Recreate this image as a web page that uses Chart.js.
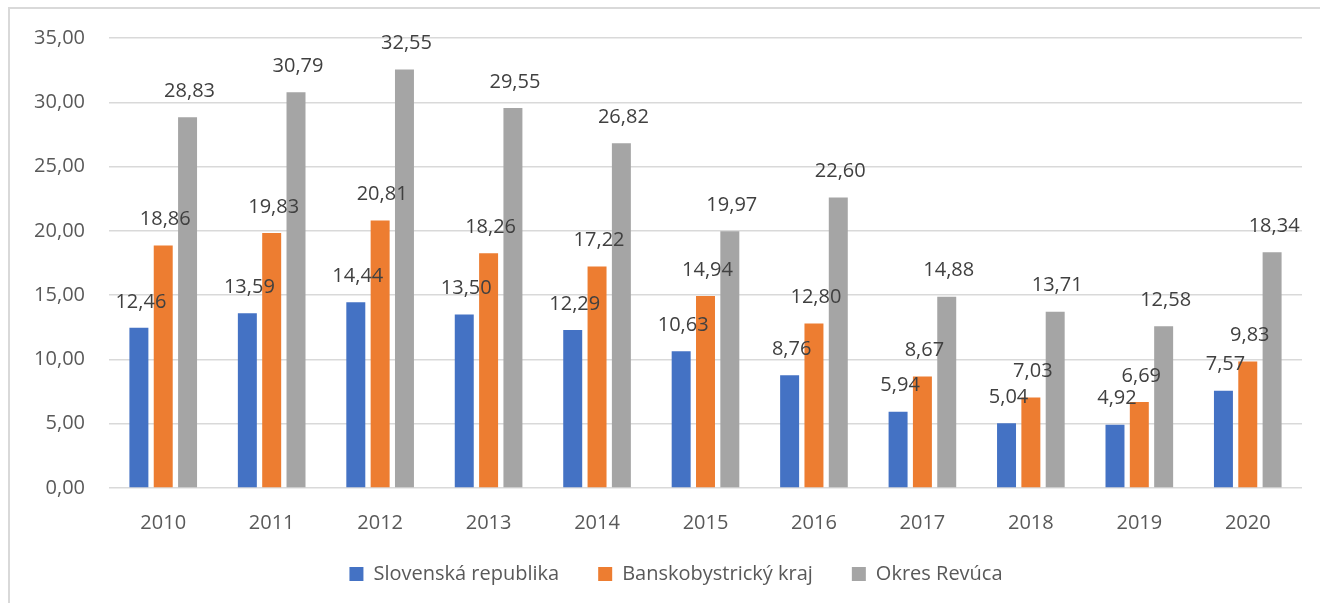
<!DOCTYPE html>
<html>
<head>
<meta charset="utf-8">
<script src="https://cdn.jsdelivr.net/npm/chart.js@4/dist/chart.umd.min.js"></script>
<style>
  html, body { margin: 0; padding: 0; background: #fff; }
  .wrap { position: relative; width: 1320px; height: 603px; overflow: hidden; }
  .frame { position: absolute; left: 8px; top: 7px; right: -4px; bottom: -4px;
           border-left: 2px solid #d9d9d9; border-top: 2px solid #d9d9d9; }
  canvas { position: absolute; left: 0; top: 0; }
</style>
</head>
<body>
<div class="wrap">
  <div class="frame"></div>
  <canvas id="chart" width="1320" height="603"></canvas>
</div>
<script>
const years = ['2010', '2011', '2012', '2013', '2014', '2015', '2016', '2017', '2018', '2019', '2020'];
const seriesNames = ['Slovenská republika', 'Banskobystrický kraj', 'Okres Revúca'];
const slovensko = [12.46, 13.59, 14.44, 13.50, 12.29, 10.63, 8.76, 5.94, 5.04, 4.92, 7.57];
const banskobystricky = [18.86, 19.83, 20.81, 18.26, 17.22, 14.94, 12.80, 8.67, 7.03, 6.69, 9.83];
const revuca = [28.83, 30.79, 32.55, 29.55, 26.82, 19.97, 22.60, 14.88, 13.71, 12.58, 18.34];
const seriesColors = ['#4472c4', '#ed7d31', '#a5a5a5'];

const numFont = "'Open Sans', 'Noto Sans', sans-serif";

function fmt(v) {
    return v.toFixed(2).replace('.', ',');
}

// popisky hodnot nad stlpcami
const valueLabels = {
    id: 'valueLabels',
    afterLayout(chart) {
        // roky pod osou nech sa neorezavaju
        chart.scales.x.bottom += 20;
        // legenda je v originali trochu posunuta doprava
        chart.legend.left += 25;
        chart.legend.right += 25;
    },
    afterDatasetsDraw(chart) {
        const ctx = chart.ctx;
        ctx.save();
        ctx.font = '20px ' + numFont;
        ctx.fillStyle = '#404040';
        ctx.textAlign = 'center';
        ctx.textBaseline = 'middle';
        chart.data.datasets.forEach((ds, i) => {
            chart.getDatasetMeta(i).data.forEach((bar, j) => {
                ctx.fillText(fmt(ds.data[j]), bar.x + 2, bar.y - 26);
            });
        });
        ctx.restore();
    }
};

const allSeries = [slovensko, banskobystricky, revuca];

new Chart(document.getElementById('chart'), {
    type: 'bar',
    data: {
        labels: years,
        datasets: allSeries.map((d, i) => ({
            label: seriesNames[i],
            data: d,
            backgroundColor: seriesColors[i],
            borderWidth: 0,
            categoryPercentage: 0.673,
            barPercentage: 0.78
        }))
    },
    options: {
        responsive: false,
        animation: false,
        layout: { padding: { top: 38, right: 18, bottom: 9, left: 0 } },
        plugins: {
            tooltip: { enabled: false },
            legend: {
                position: 'bottom',
                labels: {
                    boxWidth: 14,
                    boxHeight: 14,
                    padding: 39,
                    color: '#595959',
                    font: { family: numFont, size: 20 }
                }
            }
        },
        scales: {
            x: {
                grid: { display: false },
                border: { display: false },
                ticks: { color: '#595959', padding: 15, font: { family: numFont, size: 20 } },
                afterFit(scale) { scale.height = 37; }
            },
            y: {
                min: 0,
                max: 35,
                grid: { color: '#d9d9d9', lineWidth: 1.5, drawTicks: false },
                border: { display: false },
                ticks: {
                    stepSize: 5,
                    padding: 24,
                    color: '#595959',
                    font: { family: numFont, size: 20 },
                    callback: (v) => fmt(v)
                },
                afterFit(scale) { scale.width = 109; }
            }
        }
    },
    plugins: [valueLabels]
});
</script>
</body>
</html>
